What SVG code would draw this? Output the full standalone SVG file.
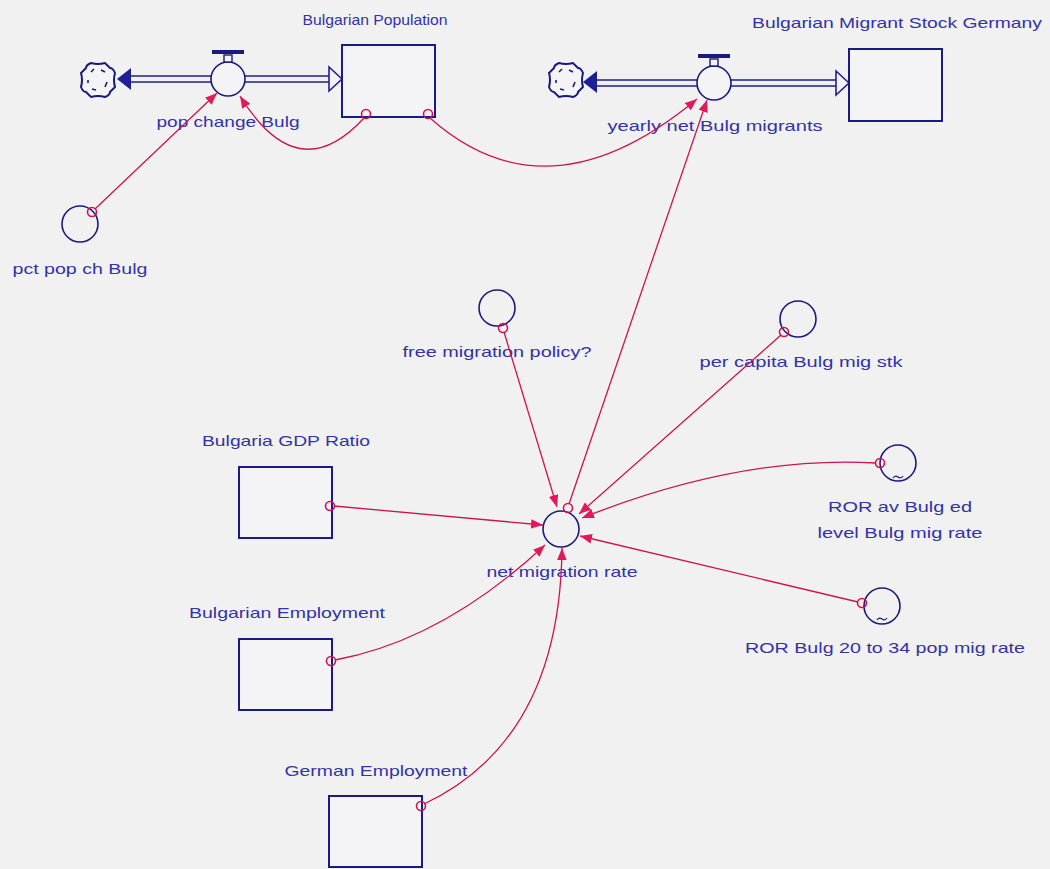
<svg xmlns="http://www.w3.org/2000/svg" width="1050" height="869" viewBox="0 0 1050 869">
  <style>
    .bg { fill: #f1f1f1; }
    .stock { fill: #f4f4f6; stroke: #1a1a86; stroke-width: 2; }
    .aux { fill: none; stroke: #1a1a7e; stroke-width: 1.6; }
    .valve { fill: #f4f4f6; stroke: #1a1a7e; stroke-width: 1.6; }
    .pipe { fill: none; stroke: #1e1e96; stroke-width: 1.6; }
    .cloud { fill: #f4f4f6; stroke: #1a1a7e; stroke-width: 2; }
    .cloudmark { fill: none; stroke: #1a1a7e; stroke-width: 1.6; }
    .label { font-family: "Liberation Sans", Arial, sans-serif; font-size: 15px; fill: #3232aa; text-anchor: middle; }
    .link { fill: none; stroke: #cc1452; stroke-width: 1.3; marker-end: url(#arrow); }
    .tail { fill: none; stroke: #cc1452; stroke-width: 1.6; }
    .tilde { fill: none; stroke: #1a1a7e; stroke-width: 1.2; }
  </style>
  <defs>
    <marker id="arrow" viewBox="0 0 10 8" refX="10" refY="4" markerWidth="12" markerHeight="10" markerUnits="userSpaceOnUse" orient="auto">
      <path d="M0,0 L10,4 L0,8 Z" fill="#e0185c"/>
    </marker>
    <!-- cloud: rounded octagon with a broken inner ring -->
    <g id="cloudShape">
      <path class="cloud" d="M-7,-17 Q0,-15 7,-17 L12,-12 Q15,-12 17,-7 Q15,0 17,7 L12,12 Q12,15 7,17 Q0,15 -7,17 L-12,12 Q-15,12 -17,7 Q-15,0 -17,-7 L-12,-12 Q-12,-15 -7,-17 Z"/>
      <path class="cloudmark" d="M-7,-8 l3,-3 M3,-10 l4,2 M9,2 l-2,5 M-2,10 l-4,-1 M-10,3 l0,-3"/>
    </g>
  </defs>

  <rect class="bg" x="0" y="0" width="1050" height="869"/>

  <!-- flow: pop change Bulg -->
  <g id="flow-pop-change-bulg">
    <use href="#cloudShape" x="98" y="80"/>
    <path d="M117,79 L131,68 L131,90 Z" fill="#1e1e96"/>
    <path class="pipe" d="M131,76 L211,76 M131,82 L211,82 M245,76 L330,76 M245,82 L330,82"/>
    <path d="M342,79 L329,67 L329,91 Z" fill="#f4f4f6" stroke="#1e1e96" stroke-width="1.6"/>
    <circle class="valve" cx="228" cy="79" r="17"/>
    <rect x="224" y="55" width="8" height="7" fill="#f4f4f6" stroke="#1a1a7e" stroke-width="1.4"/>
    <rect x="212" y="50" width="32" height="4" fill="#1a1a7e"/>
    <text class="label" x="228" y="127" textLength="143" lengthAdjust="spacingAndGlyphs">pop change Bulg</text>
  </g>

  <!-- stock: Bulgarian Population -->
  <g id="stock-bulgarian-population">
    <rect class="stock" x="342" y="45" width="93" height="72"/>
    <text class="label" x="375" y="25" textLength="145" lengthAdjust="spacingAndGlyphs">Bulgarian Population</text>
  </g>

  <!-- flow: yearly net Bulg migrants -->
  <g id="flow-yearly-net-bulg-migrants">
    <use href="#cloudShape" x="566" y="80"/>
    <path d="M583,82 L597,71 L597,93 Z" fill="#1e1e96"/>
    <path class="pipe" d="M597,80 L697,80 M597,86 L697,86 M731,80 L837,80 M731,86 L837,86"/>
    <path d="M849,83 L836,71 L836,95 Z" fill="#f4f4f6" stroke="#1e1e96" stroke-width="1.6"/>
    <circle class="valve" cx="714" cy="83" r="17"/>
    <rect x="710" y="59" width="8" height="7" fill="#f4f4f6" stroke="#1a1a7e" stroke-width="1.4"/>
    <rect x="698" y="54" width="32" height="4" fill="#1a1a7e"/>
    <text class="label" x="715" y="131" textLength="215" lengthAdjust="spacingAndGlyphs">yearly net Bulg migrants</text>
  </g>

  <!-- stock: Bulgarian Migrant Stock Germany -->
  <g id="stock-bulgarian-migrant-stock-germany">
    <rect class="stock" x="849" y="49" width="93" height="72"/>
    <text class="label" x="897" y="28" textLength="290" lengthAdjust="spacingAndGlyphs">Bulgarian Migrant Stock Germany</text>
  </g>

  <!-- auxiliaries -->
  <g id="aux-pct-pop-ch-bulg">
    <circle class="aux" cx="80" cy="224" r="18"/>
    <text class="label" x="80" y="274" textLength="135" lengthAdjust="spacingAndGlyphs">pct pop ch Bulg</text>
  </g>
  <g id="aux-free-migration-policy">
    <circle class="aux" cx="497" cy="308" r="18"/>
    <text class="label" x="497" y="357" textLength="189" lengthAdjust="spacingAndGlyphs">free migration policy?</text>
  </g>
  <g id="aux-per-capita-bulg-mig-stk">
    <circle class="aux" cx="798" cy="319" r="18"/>
    <text class="label" x="801" y="367" textLength="203" lengthAdjust="spacingAndGlyphs">per capita Bulg mig stk</text>
  </g>
  <g id="aux-net-migration-rate">
    <circle class="aux" cx="561" cy="529" r="18"/>
    <text class="label" x="562" y="577" textLength="151" lengthAdjust="spacingAndGlyphs">net migration rate</text>
  </g>
  <g id="aux-ror-av-bulg-ed-level">
    <circle class="aux" cx="898" cy="463" r="18"/>
    <path class="tilde" d="M893,478 q2,-3 5,-1 q3,2 5,-1"/>
    <text class="label" x="900" y="512" textLength="144" lengthAdjust="spacingAndGlyphs">ROR av Bulg ed</text>
    <text class="label" x="900" y="538" textLength="165" lengthAdjust="spacingAndGlyphs">level Bulg mig rate</text>
  </g>
  <g id="aux-ror-bulg-20-34">
    <circle class="aux" cx="882" cy="606" r="18"/>
    <path class="tilde" d="M877,620 q2,-3 5,-1 q3,2 5,-1"/>
    <text class="label" x="885" y="653" textLength="280" lengthAdjust="spacingAndGlyphs">ROR Bulg 20 to 34 pop mig rate</text>
  </g>

  <!-- stocks feeding the migration rate -->
  <g id="stock-bulgaria-gdp-ratio">
    <rect class="stock" x="239" y="467" width="93" height="71"/>
    <text class="label" x="286" y="446" textLength="168" lengthAdjust="spacingAndGlyphs">Bulgaria GDP Ratio</text>
  </g>
  <g id="stock-bulgarian-employment">
    <rect class="stock" x="239" y="639" width="93" height="71"/>
    <text class="label" x="287" y="618" textLength="196" lengthAdjust="spacingAndGlyphs">Bulgarian Employment</text>
  </g>
  <g id="stock-german-employment">
    <rect class="stock" x="329" y="796" width="93" height="71"/>
    <text class="label" x="376" y="776" textLength="183" lengthAdjust="spacingAndGlyphs">German Employment</text>
  </g>

  <!-- connectors -->
  <g id="connectors">
    <path class="link" d="M95,209 L217,93"/>
    <path class="link" d="M364,118 Q298,190 240,96"/>
    <path class="link" d="M430,118 Q548,223 697,99"/>
    <path class="link" d="M569,504 L707,100"/>
    <path class="link" d="M504,332 L557,507"/>
    <path class="link" d="M781,335 L579,514"/>
    <path class="link" d="M876,463 Q740,455 582,518"/>
    <path class="link" d="M858,602 L580,536"/>
    <path class="link" d="M334,506 L543,525"/>
    <path class="link" d="M335,660 Q443,640 545,545"/>
    <path class="link" d="M424,804 Q560,740 562,548"/>

    <circle class="tail" cx="92" cy="212" r="4.5"/>
    <circle class="tail" cx="366" cy="114" r="4.5"/>
    <circle class="tail" cx="428" cy="114" r="4.5"/>
    <circle class="tail" cx="568" cy="508" r="4.5"/>
    <circle class="tail" cx="503" cy="328" r="4.5"/>
    <circle class="tail" cx="784" cy="332" r="4.5"/>
    <circle class="tail" cx="880" cy="463" r="4.5"/>
    <circle class="tail" cx="862" cy="603" r="4.5"/>
    <circle class="tail" cx="330" cy="506" r="4.5"/>
    <circle class="tail" cx="331" cy="661" r="4.5"/>
    <circle class="tail" cx="421" cy="806" r="4.5"/>
  </g>
</svg>
